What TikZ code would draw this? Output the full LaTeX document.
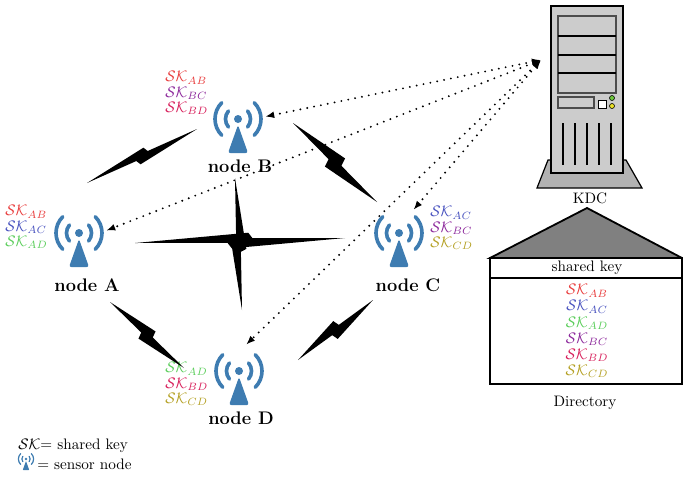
\documentclass[tikz,border=0pt]{standalone}
\usepackage{amsmath,amssymb}
\usepackage{tikz}
\usetikzlibrary{arrows.meta, calc, positioning}

\definecolor{sensorblue}{RGB}{62,124,177}
\definecolor{kab}{RGB}{232,60,60}
\definecolor{kac}{RGB}{70,80,190}
\definecolor{kad}{RGB}{90,205,90}
\definecolor{kbc}{RGB}{140,40,155}
\definecolor{kbd}{RGB}{215,30,90}
\definecolor{kcd}{RGB}{180,160,35}

% shared keys
\newcommand{\kAB}{\textcolor{kab}{$\mathcal{SK}_{AB}$}}
\newcommand{\kAC}{\textcolor{kac}{$\mathcal{SK}_{AC}$}}
\newcommand{\kAD}{\textcolor{kad}{$\mathcal{SK}_{AD}$}}
\newcommand{\kBC}{\textcolor{kbc}{$\mathcal{SK}_{BC}$}}
\newcommand{\kBD}{\textcolor{kbd}{$\mathcal{SK}_{BD}$}}
\newcommand{\kCD}{\textcolor{kcd}{$\mathcal{SK}_{CD}$}}

% lightning bolt between two coordinates, #1 = half width
\newcommand{\zap}[3][5pt]{%
  \fill (#2) -- ($(#2)!0.54!(#3)!#1!90:(#3)$) -- ($(#2)!0.56!(#3)!1.3pt!90:(#3)$) -- (#3)
    -- ($(#2)!0.46!(#3)!#1!-90:(#3)$) -- ($(#2)!0.44!(#3)!1.3pt!-90:(#3)$) -- cycle;}

\tikzset{
  pics/antenna/.style={code={
    \begin{scope}[scale=#1]
      \fill[sensorblue, rounded corners=#1*1.5pt] (0,6) -- (10,34) -- (-10,34) -- cycle;
      \fill[sensorblue] (0,0) circle (4);
      \begin{scope}[draw=sensorblue, line width=#1*2.4pt, line cap=round]
        \draw (40:12.5) arc[start angle=40, end angle=-40, radius=12.5];
        \draw (140:12.5) arc[start angle=140, end angle=220, radius=12.5];
        \draw (45:23) arc[start angle=45, end angle=-45, radius=23];
        \draw (135:23) arc[start angle=135, end angle=225, radius=23];
      \end{scope}
    \end{scope}
  }},
  pics/antenna/.default=1
}

\begin{document}
\begin{tikzpicture}[x=0.02314cm, y=-0.02314cm,
    station/.style={circle, minimum size=35.5pt, inner sep=0pt},
    lbl/.style={font=\large\bfseries},
    keys/.style={anchor=west, align=left, inner sep=0pt, font=\fontsize{10pt}{10pt}\selectfont},
    dirkeys/.style={align=center, inner sep=0pt, font=\fontsize{10pt}{10.6pt}\selectfont},
    link/.style={line width=1.4pt, line cap=round, dash pattern=on 0pt off 4.6pt,
      {Latex[length=6pt,width=4.5pt]}-{Latex[length=6pt,width=4.5pt]}},
    frame/.style={line width=1.2pt}]

    \useasboundingbox (0,0) rectangle (683,477);

    % sensor nodes
    \node[station] (A) at (79,233) {};
    \node[station] (B) at (238,119) {};
    \node[station] (C) at (399,233) {};
    \node[station] (D) at (239,371) {};
    \foreach \n in {A,B,C,D}
        \pic at (\n) {antenna};

    \node[lbl] (Alabel) at (87,285) {node A};
    \node[lbl] (Blabel) at (240,166) {node B};
    \node[lbl] (Clabel) at (408,285) {node C};
    \node[lbl] (Dlabel) at (241,418) {node D};

    \node[keys] (Akeys) at (5,227) {\kAB\\\kAC\\\kAD};
    \node[keys] (Bkeys) at (165,93) {\kAB\\\kBC\\\kBD};
    \node[keys] (Ckeys) at (430,228) {\kAC\\\kBC\\\kCD};
    \node[keys] (Dkeys) at (165,384) {\kAD\\\kBD\\\kCD};

    % radio links
    \coordinate (ab1) at (87,183);   \coordinate (ab2) at (197,129);
    \coordinate (bc1) at (293,123);  \coordinate (bc2) at (377,202);
    \coordinate (ad1) at (110,302);  \coordinate (ad2) at (184,368);
    \coordinate (cd1) at (373,300);  \coordinate (cd2) at (298,360);
    \coordinate (bd1) at (235,178);  \coordinate (bd2) at (242,310);
    \coordinate (ac1) at (135,243);  \coordinate (ac2) at (345,238);

    \zap[4.5pt]{ab1}{ab2}
    \zap[6.5pt]{bc1}{bc2}
    \zap[5.5pt]{ad1}{ad2}
    \zap[5.5pt]{cd1}{cd2}
    \zap[5pt]{bd1}{bd2}
    \zap[5pt]{ac1}{ac2}

    % KDC server
    \filldraw[fill=gray!60, line width=0.8pt] (537,188) -- (548,160) -- (626,160) -- (642,188) -- cycle;
    \filldraw[fill=gray!40, line width=1pt] (551,6) rectangle (623,173);
    \draw[black!70, line width=0.8pt] (558,16) rectangle (616,93);
    \foreach \y in {36,55,73}
        \draw[line width=1pt] (558,\y) -- (616,\y);
    \draw[black!70, line width=0.8pt] (558,97) rectangle (594,108);
    \filldraw[fill=white, line width=0.6pt] (598,100) rectangle (606,108);
    \filldraw[fill={rgb,255:red,110;green,200;blue,60}, line width=0.4pt] (612,98) circle (2.5);
    \filldraw[fill={rgb,255:red,235;green,225;blue,40}, line width=0.4pt] (612,106) circle (2.5);
    \foreach \x in {563,575,587,599,611}
        \draw[line width=0.8pt] (\x,123) -- (\x,165);
    \coordinate (kdc) at (541,60);
    \node (kdclabel) at (590,198) {KDC};

    % key distribution
    \draw[link] (kdc) -- (B.5);
    \draw[link] (kdc) -- (A.5);
    \draw[link] (kdc) -- (C.58);
    \draw[link] (kdc) -- (D.75);

    % directory
    \filldraw[fill=gray, frame] (490,258) -- (587,208) -- (682,258) -- cycle;
    \draw[frame] (490,258) rectangle (682,384);
    \draw[frame] (490,278) -- (682,278);
    \node (header) at (587,268) {shared key};
    \node[dirkeys] (dirkeys) at (587,331) {\kAB\\\kAC\\\kAD\\\kBC\\\kBD\\\kCD};
    \node (dirlabel) at (585,403) {Directory};

    % legend
    \node[anchor=west] (legsk) at (13,446) {$\mathcal{SK}$= shared key};
    \pic at (26,459) {antenna=0.33};
    \node[anchor=west] (legnode) at (32,464) {= sensor node};
\end{tikzpicture}
\end{document}
